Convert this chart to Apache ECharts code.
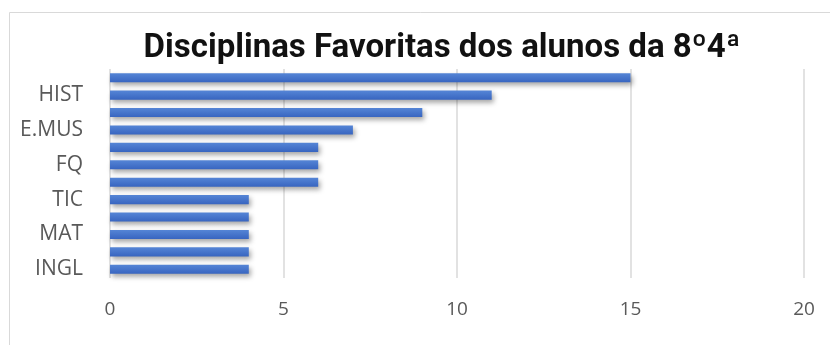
<!DOCTYPE html>
<html>
<head>
<meta charset="utf-8">
<style>html,body{margin:0;padding:0;background:#fff}#c{width:830px;height:345px}</style>
<script src="https://cdn.jsdelivr.net/npm/echarts@6/dist/echarts.min.js"></script>
</head>
<body>
<div id="c"></div>
<script>
// categories from bottom to top
const categories = ["INGL", "FR", "MAT", "PORT", "TIC", "CN", "FQ", "GEO", "E.MUS", "EV", "HIST", "EF"];
const values = [4, 4, 4, 4, 4, 6, 6, 6, 7, 9, 11, 15];
const xTicks = [0, 5, 10, 15, 20];
const titleText = "Disciplinas Favoritas dos alunos da 8º4ª";

const font = '"Open Sans", sans-serif';
const chart = echarts.init(document.getElementById('c'), null, {renderer: 'canvas'});
chart.setOption({
  animation: false,
  backgroundColor: '#fff',
  graphic: [{
    type: 'rect', shape: {x: 9.5, y: 12.5, width: 830, height: 340},
    style: {fill: 'none', stroke: '#d9d9d9', lineWidth: 1}, z: -1
  }],
  title: {
    text: titleText, left: 437, textAlign: 'center', top: 27,
    textStyle: {fontFamily: 'Roboto, sans-serif', fontWeight: 'bold', fontSize: 33, color: '#111'}
  },
  grid: {left: 110, right: 26, top: 69, bottom: 67},
  xAxis: {
    type: 'value', min: xTicks[0], max: xTicks[xTicks.length - 1], interval: 5,
    axisLine: {show: false}, axisTick: {show: false},
    axisLabel: {fontFamily: font, fontSize: 19, color: '#595959', margin: 22},
    splitLine: {lineStyle: {color: '#d9d9d9', width: 1.5}}
  },
  yAxis: {
    type: 'category', data: categories,
    axisLine: {show: false}, axisTick: {show: false},
    axisLabel: {interval: 1, fontFamily: font, fontSize: 21, color: '#595959', margin: 27}
  },
  series: [{
    type: 'bar', data: values, barCategoryGap: '48%',
    itemStyle: {
      color: new echarts.graphic.LinearGradient(0, 0, 0, 1, [
        {offset: 0, color: '#5585d6'}, {offset: 1, color: '#3865c0'}
      ]),
      shadowBlur: 5, shadowOffsetX: 2, shadowOffsetY: 3, shadowColor: 'rgba(0,0,0,0.35)'
    }
  }]
});
</script>
</body>
</html>
